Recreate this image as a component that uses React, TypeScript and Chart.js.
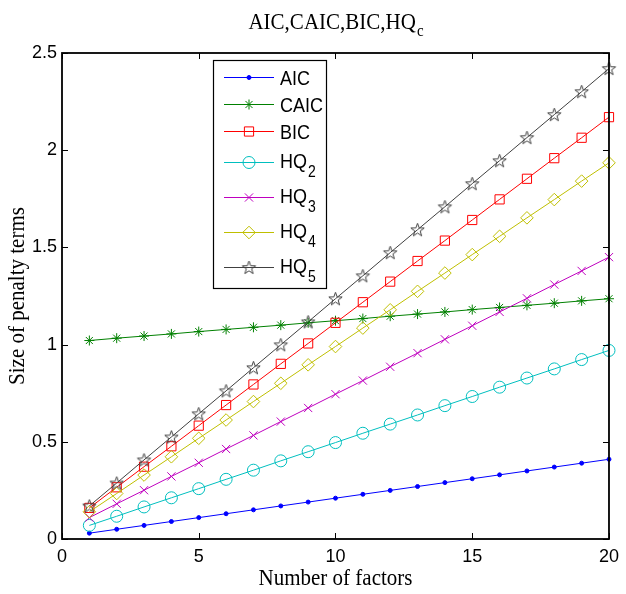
import React, { useEffect, useRef } from 'react';
import { Chart, registerables } from 'chart.js';

Chart.register(...registerables);

const factors = [1, 2, 3, 4, 5, 6, 7, 8, 9, 10, 11, 12, 13, 14, 15, 16, 17, 18, 19, 20];
const aic = [0.03, 0.05, 0.07, 0.09, 0.11, 0.13, 0.15, 0.17, 0.19, 0.21, 0.23, 0.25, 0.27, 0.29, 0.31, 0.33, 0.35, 0.37, 0.39, 0.41];
const caic = [1.021, 1.033, 1.044, 1.055, 1.067, 1.078, 1.089, 1.1, 1.112, 1.123, 1.134, 1.146, 1.157, 1.168, 1.18, 1.191, 1.202, 1.213, 1.225, 1.236];
const bic = [0.16, 0.266, 0.372, 0.477, 0.583, 0.689, 0.795, 0.901, 1.006, 1.112, 1.218, 1.324, 1.43, 1.535, 1.641, 1.747, 1.853, 1.959, 2.064, 2.17];
const hq2 = [0.07, 0.117, 0.165, 0.212, 0.259, 0.307, 0.354, 0.402, 0.449, 0.496, 0.544, 0.591, 0.638, 0.686, 0.733, 0.781, 0.828, 0.875, 0.923, 0.97];
const hq3 = [0.11, 0.181, 0.251, 0.322, 0.392, 0.463, 0.533, 0.604, 0.674, 0.745, 0.815, 0.886, 0.956, 1.027, 1.097, 1.168, 1.238, 1.309, 1.379, 1.45];
const hq4 = [0.14, 0.234, 0.329, 0.423, 0.518, 0.612, 0.707, 0.801, 0.896, 0.99, 1.085, 1.179, 1.274, 1.368, 1.463, 1.557, 1.652, 1.746, 1.841, 1.935];
const hq5 = [0.17, 0.288, 0.407, 0.525, 0.644, 0.762, 0.881, 0.999, 1.117, 1.236, 1.354, 1.473, 1.591, 1.709, 1.828, 1.946, 2.065, 2.183, 2.301, 2.42];

const seriesNames = ['AIC', 'CAIC', 'BIC', 'HQ', 'HQ', 'HQ', 'HQ'];
const seriesSubs = ['', '', '', '2', '3', '4', '5'];
const xTicks = [0, 5, 10, 15, 20];
const yTicks = [0, 0.5, 1, 1.5, 2, 2.5];
const titleMain = 'AIC,CAIC,BIC,HQ';
const titleSub = 'c';
const xTitle = 'Number of factors';
const yTitle = 'Size of penalty terms';

const colors = ['#0000ff', '#008000', '#ff0000', '#00bfbf', '#bf00bf', '#bfbf00', '#404040'];
const legendRows = [77, 104, 131, 162, 197, 232, 267];
const STRETCH = 1.12;

function makeStar(color: string) {
  const c = document.createElement('canvas');
  c.width = 17;
  c.height = 17;
  const g = c.getContext('2d')!;
  g.strokeStyle = color;
  g.lineWidth = 1;
  g.beginPath();
  const cx = 8.5, cy = 9, R = 7, r = 2.8;
  for (let i = 0; i < 10; i++) {
    const ang = -Math.PI / 2 + (i * Math.PI) / 5;
    const rad = i % 2 === 0 ? R : r;
    const px = cx + rad * Math.cos(ang);
    const py = cy + rad * Math.sin(ang);
    if (i === 0) g.moveTo(px, py);
    else g.lineTo(px, py);
  }
  g.closePath();
  g.stroke();
  return c;
}

function drawMarker(ctx: CanvasRenderingContext2D, style: any, x: number, y: number, r: number, color: string, fill: boolean) {
  ctx.save();
  ctx.strokeStyle = color;
  ctx.fillStyle = color;
  ctx.lineWidth = 1;
  if (typeof style !== 'string') {
    ctx.drawImage(style, x - style.width / 2, y - style.height / 2);
    ctx.restore();
    return;
  }
  ctx.beginPath();
  const d = r * Math.SQRT1_2;
  switch (style) {
    case 'circle':
      ctx.arc(x, y, r, 0, Math.PI * 2);
      break;
    case 'rect':
      ctx.rect(x - d, y - d, 2 * d, 2 * d);
      break;
    case 'rectRot':
      ctx.moveTo(x - r, y);
      ctx.lineTo(x, y - r);
      ctx.lineTo(x + r, y);
      ctx.lineTo(x, y + r);
      ctx.closePath();
      break;
    case 'crossRot':
      ctx.moveTo(x - d, y - d);
      ctx.lineTo(x + d, y + d);
      ctx.moveTo(x - d, y + d);
      ctx.lineTo(x + d, y - d);
      break;
    case 'star':
      ctx.moveTo(x - r, y);
      ctx.lineTo(x + r, y);
      ctx.moveTo(x, y - r);
      ctx.lineTo(x, y + r);
      ctx.moveTo(x - d, y - d);
      ctx.lineTo(x + d, y + d);
      ctx.moveTo(x - d, y + d);
      ctx.lineTo(x + d, y - d);
      break;
  }
  if (fill) ctx.fill();
  ctx.stroke();
  ctx.restore();
}

// draw text stretched vertically around its baseline point
function stretchedText(ctx: CanvasRenderingContext2D, text: string, x: number, y: number) {
  ctx.save();
  ctx.translate(x, y);
  ctx.scale(1, STRETCH);
  ctx.fillText(text, 0, 0);
  ctx.restore();
}

export default function App() {
  const ref = useRef<HTMLCanvasElement>(null);

  useEffect(() => {
    const canvas = ref.current!;
    const starImg = makeStar('#404040');
    const styles: any[] = ['circle', 'star', 'rect', 'circle', 'crossRot', 'rectRot', starImg];
    const radii = [2, 5, 6.5, 6, 5.8, 6.3, 7];
    const fills = [true, false, false, false, false, false, false];
    const series = [aic, caic, bic, hq2, hq3, hq4, hq5];

    const datasets = series.map((vals, i) => ({
      label: seriesNames[i] + seriesSubs[i],
      data: factors.map((f, j) => ({ x: f, y: vals[j] })),
      borderColor: colors[i],
      backgroundColor: fills[i] ? colors[i] : 'rgba(0,0,0,0)',
      pointBorderColor: colors[i],
      pointBackgroundColor: fills[i] ? colors[i] : 'rgba(0,0,0,0)',
      borderWidth: 1,
      pointBorderWidth: 1,
      pointStyle: styles[i],
      pointRadius: radii[i],
      pointHoverRadius: radii[i],
      tension: 0,
      fill: false,
      clip: false as any,
      order: 6 - i,
    }));

    const decor = {
      id: 'decor',
      afterDraw(chart: any) {
        const { ctx, chartArea: a, scales } = chart;
        ctx.save();
        // inward ticks
        ctx.strokeStyle = '#000';
        ctx.lineWidth = 1;
        ctx.beginPath();
        xTicks.forEach((v) => {
          const x = Math.round(scales.x.getPixelForValue(v)) + 0.5;
          ctx.moveTo(x, a.bottom);
          ctx.lineTo(x, a.bottom - 6);
          ctx.moveTo(x, a.top);
          ctx.lineTo(x, a.top + 6);
        });
        yTicks.forEach((v) => {
          const y = Math.round(scales.y.getPixelForValue(v)) + 0.5;
          ctx.moveTo(a.left, y);
          ctx.lineTo(a.left + 6, y);
          ctx.moveTo(a.right, y);
          ctx.lineTo(a.right - 6, y);
        });
        ctx.stroke();
        // box
        ctx.lineWidth = 1.8;
        ctx.strokeRect(a.left, a.top, a.right - a.left, a.bottom - a.top);

        // title
        const cx = (a.left + a.right) / 2;
        ctx.fillStyle = '#000';
        ctx.textBaseline = 'alphabetic';
        ctx.textAlign = 'left';
        ctx.font = '21px "Liberation Serif"';
        const wMain = ctx.measureText(titleMain).width;
        ctx.font = '15px "Liberation Serif"';
        const wSub = ctx.measureText(titleSub).width;
        const tx = cx - (wMain + wSub) / 2;
        ctx.font = '21px "Liberation Serif"';
        stretchedText(ctx, titleMain, tx, 29);
        ctx.font = '15px "Liberation Serif"';
        stretchedText(ctx, titleSub, tx + wMain + 1, 36);

        // x title
        ctx.font = '21px "Liberation Serif"';
        ctx.textAlign = 'center';
        stretchedText(ctx, xTitle, cx, 585);

        // y title
        ctx.save();
        ctx.translate(24, (a.top + a.bottom) / 2);
        ctx.rotate(-Math.PI / 2);
        ctx.textAlign = 'center';
        stretchedText(ctx, yTitle, 0, 0);
        ctx.restore();

        // legend
        const lx = 213, ly = 60, lw = 113, lh = 228;
        ctx.fillStyle = '#fff';
        ctx.fillRect(lx, ly, lw, lh);
        ctx.strokeStyle = '#000';
        ctx.lineWidth = 1.2;
        ctx.strokeRect(lx + 0.5, ly + 0.5, lw, lh);
        legendRows.forEach((ry, i) => {
          ctx.strokeStyle = colors[i];
          ctx.lineWidth = 1;
          ctx.beginPath();
          ctx.moveTo(224, ry + 0.5);
          ctx.lineTo(274, ry + 0.5);
          ctx.stroke();
          drawMarker(ctx, styles[i], 249, ry + 0.5, radii[i], colors[i], fills[i]);
          ctx.fillStyle = '#000';
          ctx.textAlign = 'left';
          ctx.textBaseline = 'alphabetic';
          ctx.font = '18px "Liberation Sans"';
          const sub = seriesSubs[i];
          const base = sub ? ry + 6 : ry + 8;
          stretchedText(ctx, seriesNames[i], 280, base);
          if (sub) {
            const w = ctx.measureText(seriesNames[i]).width;
            ctx.font = '14px "Liberation Sans"';
            stretchedText(ctx, sub, 280 + w + 1, ry + 15);
          }
        });
        ctx.restore();
      },
    };

    const chart = new Chart(canvas, {
      type: 'line',
      data: { datasets },
      plugins: [decor],
      options: {
        animation: false,
        responsive: false,
        devicePixelRatio: 1,
        layout: { padding: { left: 0, top: 53, right: 12, bottom: 0 } },
        plugins: {
          legend: { display: false },
          title: { display: false },
          tooltip: { enabled: false },
        },
        scales: {
          x: {
            type: 'linear',
            min: 0,
            max: 20,
            afterFit: (s: any) => {
              s.height = 55;
            },
            grid: { display: false, drawTicks: false },
            border: { display: false },
            ticks: {
              stepSize: 5,
              padding: 7,
              color: '#000',
              font: { family: '"Liberation Sans"', size: 18 },
              maxRotation: 0,
              callback: (v: any) => String(v),
            },
          },
          y: {
            type: 'linear',
            min: 0,
            max: 2.5,
            afterFit: (s: any) => {
              s.width = 62;
            },
            grid: { display: false, drawTicks: false },
            border: { display: false },
            ticks: {
              stepSize: 0.5,
              padding: 5,
              color: '#000',
              font: { family: '"Liberation Sans"', size: 18 },
              callback: (v: any) => String(v),
            },
          },
        },
      },
    });
    return () => chart.destroy();
  }, []);

  return (
    <div style={{ position: 'absolute', left: 0, top: 0, width: 626, height: 594, background: '#fff' }}>
      <canvas ref={ref} width={626} height={594} />
    </div>
  );
}
